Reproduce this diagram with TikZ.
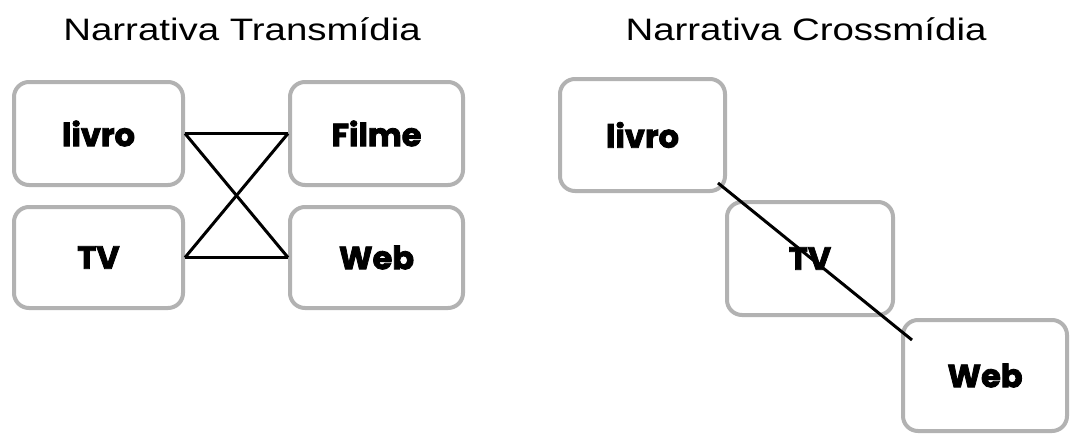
\documentclass[tikz,border=0pt]{standalone}
\usepackage{fontspec}
\setmainfont{Liberation Sans}
\newfontfamily\labfont{Poppins}[BoldFeatures={FakeBold=2.5}]
\begin{document}
\begin{tikzpicture}[x=1pt,y=-1pt,
  mbox/.style={draw=gray!60, line width=4pt, rounded corners=15pt, fill=white,
    inner sep=0pt, font=\labfont\bfseries\fontsize{32}{35}\selectfont},
  ttl/.style={font=\fontsize{31}{34}\selectfont, xscale=1.24, inner sep=0pt, anchor=base},
  conn/.style={line width=3pt, black}]
\useasboundingbox (0,0) rectangle (1076,434);
\fill[white] (0,0) rectangle (1076,434);
% titles
\node[ttl] (t1) at (242,40) {Narrativa Transmídia};
\node[ttl] (t2) at (806,40) {Narrativa Crossmídia};
% left boxes
\node[mbox, minimum width=169pt, minimum height=103pt] (L1) at (98.5,133.5) {livro};
\node[mbox, minimum width=169pt, minimum height=101pt] (L2) at (98.5,257.5) {TV};
\node[mbox, minimum width=173pt, minimum height=103pt] (L3) at (376.5,133.5) {Filme};
\node[mbox, minimum width=173pt, minimum height=101pt] (L4) at (376.5,257.5) {Web};
\draw[conn] (L1.east) -- (L3.west);
\draw[conn] (L2.east) -- (L4.west);
\draw[conn] (L1.east) -- (L4.west);
\draw[conn] (L2.east) -- (L3.west);
% right boxes
\node[mbox, minimum width=165pt, minimum height=112pt] (R1) at (642.5,135) {livro};
\node[mbox, minimum width=166pt, minimum height=113pt] (R2) at (810,258.5) {TV};
\node[mbox, minimum width=164pt, minimum height=111pt] (R3) at (985,375.5) {Web};
\coordinate (a) at (718,183);
\coordinate (b) at (912,340);
\draw[conn] (a) -- (b);
\end{tikzpicture}
\end{document}
